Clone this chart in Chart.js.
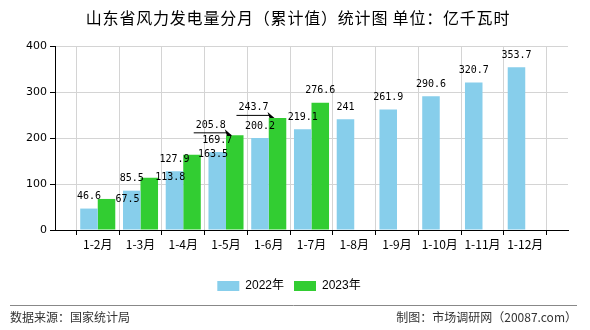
<!DOCTYPE html>
<html>
<head>
<meta charset="utf-8">
<script src="https://cdn.jsdelivr.net/npm/chart.js@4.4.0/dist/chart.umd.min.js"></script>
<style>
  html, body { margin: 0; padding: 0; background: #fff; }
  #wrap { width: 590px; height: 330px; position: relative; }
</style>
</head>
<body>
<div id="wrap"><canvas id="js--chart"></canvas></div>
<script>
const categories = ["1-2月", "1-3月", "1-4月", "1-5月", "1-6月", "1-7月", "1-8月", "1-9月", "1-10月", "1-11月", "1-12月"];
const values2022 = [46.6, 85.5, 127.9, 169.7, 200.2, 219.1, 241, 261.9, 290.6, 320.7, 353.7];
const values2023 = [67.5, 113.8, 163.5, 205.8, 243.7, 276.6];
const seriesNames = ["2022年", "2023年"];
const yTicks = [0, 100, 200, 300, 400];

const titleText = "山东省风力发电量分月（累计值）统计图 单位：亿千瓦时";
const sourceText = "数据来源：国家统计局";
const makerText = "制图：市场调研网（20087.com）";

// empty slot at both ends so the first/last months sit one step in from the axis
const padLabels = ["", ...categories, ""];
const pad = (arr) => {
    const out = [null, ...arr];
    while (out.length < padLabels.length) out.push(null);
    return out;
};

// how value labels are placed (some 2023 ones were pushed aside in the original)
const shifted = { 0: [21, 0], 1: [21, 0], 2: [21, 0] };
const arrowed = { 3: true, 4: true };

const valueLabels = {
    id: "valueLabels",
    afterDatasetsDraw(chart) {
        const ctx = chart.ctx;
        ctx.save();
        ctx.font = "10px 'DejaVu Sans Mono'";
        ctx.fillStyle = "#000";
        ctx.strokeStyle = "#000";
        ctx.textAlign = "center";
        ctx.textBaseline = "middle";
        chart.data.datasets.forEach((ds, di) => {
            const meta = chart.getDatasetMeta(di);
            meta.data.forEach((bar, i) => {
                const v = ds.data[i];
                if (v === null || v === undefined) return;
                const k = i - 1;
                const txt = String(v);
                let x = bar.x, y = bar.y - 12;
                if (di === 1 && shifted[k]) {
                    x = bar.x + shifted[k][0];
                    y = bar.y + shifted[k][1];
                } else if (di === 1 && arrowed[k]) {
                    x = bar.x - 24;
                    y = bar.y - 10;
                    const w = ctx.measureText(txt).width;
                    const ly = bar.y - 3;
                    ctx.lineWidth = 1;
                    ctx.beginPath();
                    ctx.moveTo(x - w / 2 - 2, ly + 0.5);
                    ctx.lineTo(bar.x - 7, ly + 0.5);
                    ctx.stroke();
                    ctx.beginPath();
                    ctx.moveTo(bar.x - 3, bar.y);
                    ctx.lineTo(bar.x - 10, ly - 3);
                    ctx.lineTo(bar.x - 8, ly + 3);
                    ctx.closePath();
                    ctx.fill();
                }
                ctx.fillText(txt, x, y);
            });
        });
        ctx.restore();
    }
};

const frameTexts = {
    id: "frameTexts",
    afterDraw(chart) {
        const ctx = chart.ctx;
        ctx.save();
        ctx.fillStyle = "#000";
        ctx.textBaseline = "middle";
        ctx.textAlign = "center";
        ctx.font = "16px 'Noto Sans CJK SC'";
        ctx.letterSpacing = "0.8px";
        ctx.fillText(titleText, 298, 18);
        ctx.letterSpacing = "0px";

        ctx.strokeStyle = "#888";
        ctx.lineWidth = 1;
        ctx.beginPath();
        ctx.moveTo(10, 305.5);
        ctx.lineTo(577, 305.5);
        ctx.stroke();

        ctx.fillStyle = "#333";
        ctx.font = "12px 'Noto Sans CJK SC'";
        ctx.textAlign = "left";
        ctx.fillText(sourceText, 10, 317);
        ctx.textAlign = "right";
        ctx.fillText(makerText, 577, 317);
        ctx.restore();
    }
};

const data = {
    labels: padLabels,
    datasets: [{
        label: seriesNames[0],
        data: pad(values2022),
        backgroundColor: "#87CEEB"
    }, {
        label: seriesNames[1],
        data: pad(values2023),
        backgroundColor: "#32CD32"
    }]
};

const config = {
    type: "bar",
    data: data,
    options: {
        responsive: false,
        animation: false,
        layout: { padding: { top: 46, left: 10, right: 22, bottom: 28 } },
        datasets: { bar: { categoryPercentage: 0.82, barPercentage: 1 } },
        plugins: {
            title: { display: false },
            tooltip: { enabled: false },
            legend: {
                position: "bottom",
                labels: {
                    boxWidth: 22,
                    boxHeight: 10,
                    padding: 10,
                    color: "#000",
                    font: { size: 12, family: "'Liberation Sans', 'Noto Sans CJK SC'" }
                }
            }
        },
        scales: {
            x: {
                offset: false,
                afterFit: (s) => { s.height = 40; },
                grid: { color: "#d4d4d4", tickColor: "#000", tickLength: 5 },
                border: { color: "#000" },
                ticks: {
                    color: "#000",
                    maxRotation: 0,
                    autoSkip: false,
                    padding: 2,
                    font: { size: 12, family: "'Noto Sans CJK SC'" }
                }
            },
            y: {
                min: 0,
                max: 400,
                afterFit: (s) => { s.width = 45; },
                afterBuildTicks: (s) => { s.ticks = yTicks.map(v => ({ value: v })); },
                grid: { color: "#d4d4d4", tickColor: "#000", tickLength: 5 },
                border: { color: "#000" },
                ticks: {
                    color: "#000",
                    padding: 3,
                    font: { size: 11, family: "'DejaVu Sans'" }
                }
            }
        }
    },
    plugins: [valueLabels, frameTexts]
};

const canvas = document.getElementById("js--chart");
canvas.width = 590;
canvas.height = 330;
const windChart = new Chart(canvas, config);
</script>
</body>
</html>
